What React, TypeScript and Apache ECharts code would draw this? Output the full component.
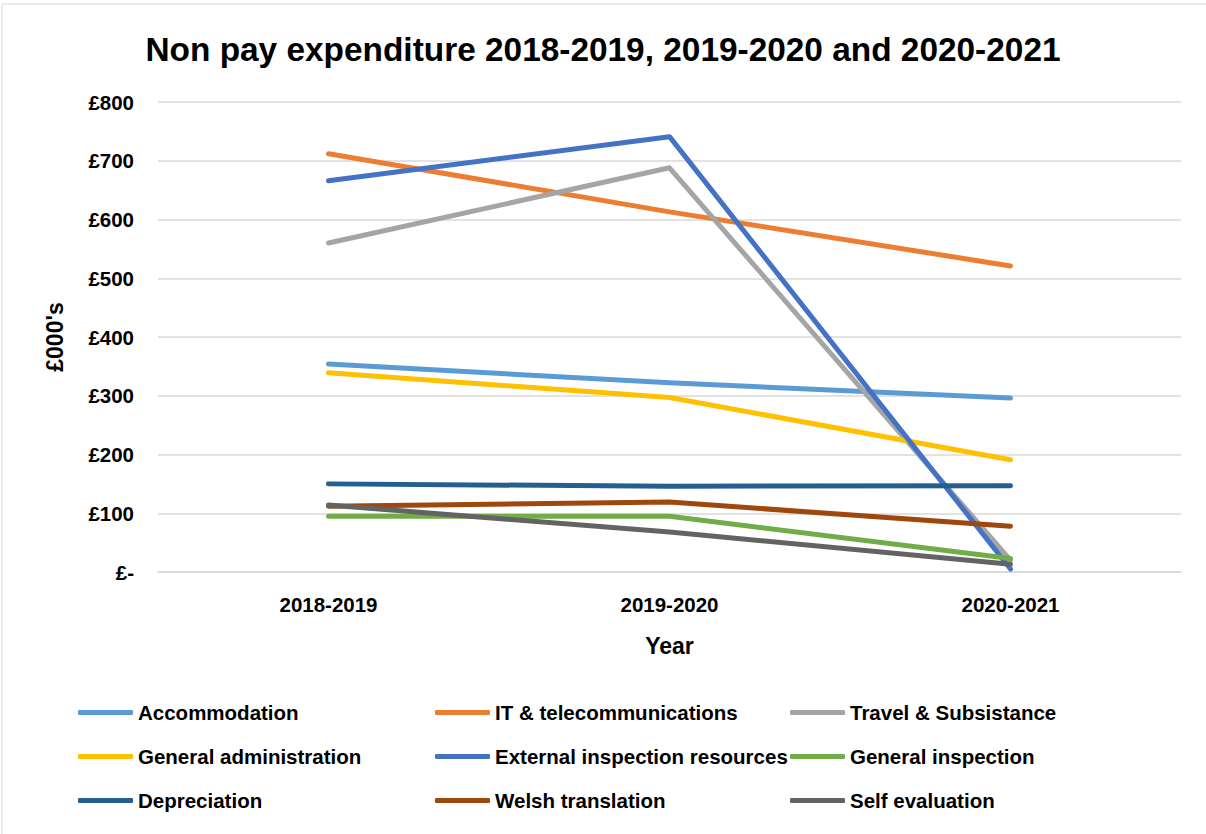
import React, { useEffect, useRef } from "react";
import * as echarts from "echarts";

const categories = ["2018-2019", "2019-2020", "2020-2021"];
const seriesNames = [
  "Accommodation",
  "IT & telecommunications",
  "Travel & Subsistance",
  "General administration",
  "External inspection resources",
  "General inspection",
  "Depreciation",
  "Welsh translation",
  "Self evaluation",
];
const accommodation = [354, 322, 296];
const itTelecom = [712, 613, 521];
const travel = [560, 688, 20];
const generalAdmin = [339, 297, 191];
const externalInspection = [666, 741, 5];
const generalInspection = [95, 95, 23];
const depreciation = [150, 146, 147];
const welshTranslation = [112, 119, 78];
const selfEvaluation = [114, 68, 13];
const yTicks = [0, 100, 200, 300, 400, 500, 600, 700, 800];

const seriesValues = [
  accommodation,
  itTelecom,
  travel,
  generalAdmin,
  externalInspection,
  generalInspection,
  depreciation,
  welshTranslation,
  selfEvaluation,
];
const colors = [
  "#5B9BD5",
  "#ED7D31",
  "#A5A5A5",
  "#FFC000",
  "#4472C4",
  "#70AD47",
  "#255E91",
  "#9E480E",
  "#636363",
];

const FONT = "'Liberation Sans', Arial, sans-serif";

export default function App() {
  const ref = useRef<HTMLDivElement>(null);
  useEffect(() => {
    if (!ref.current) return;
    const chart = echarts.init(ref.current, null, { renderer: "svg" });
    const legendBase = {
      orient: "vertical" as const,
      top: 697,
      itemGap: 23,
      itemWidth: 55,
      itemHeight: 5,
      icon: "roundRect",
      textStyle: { fontFamily: FONT, fontWeight: "bold" as const, fontSize: 20.5, color: "#000" },
    };
    chart.setOption({
      animation: false,
      color: colors,
      title: {
        text: "Non pay expenditure 2018-2019, 2019-2020 and 2020-2021",
        left: "center",
        top: 28,
        textStyle: { fontFamily: FONT, fontWeight: "bold", fontSize: 33.4, color: "#000" },
      },
      graphic: [
        {
          type: "rect",
          shape: { x: 2, y: 4, width: 1220, height: 850 },
          style: { fill: "none", stroke: "#D9D9D9", lineWidth: 1 },
          silent: true,
        },
      ],
      legend: [
        { ...legendBase, left: 73, data: [seriesNames[0], seriesNames[3], seriesNames[6]] },
        { ...legendBase, left: 430, data: [seriesNames[1], seriesNames[4], seriesNames[7]] },
        { ...legendBase, left: 785, data: [seriesNames[2], seriesNames[5], seriesNames[8]] },
      ],
      grid: { left: 158, right: 25, top: 102, bottom: 262 },
      xAxis: {
        type: "category",
        data: categories,
        name: "Year",
        nameLocation: "middle",
        nameGap: 62,
        nameTextStyle: { fontFamily: FONT, fontWeight: "bold", fontSize: 23, color: "#000" },
        axisTick: { show: false },
        axisLine: { lineStyle: { color: "#D9D9D9", width: 1.5 } },
        axisLabel: { fontFamily: FONT, fontWeight: "bold", fontSize: 20.5, color: "#000", margin: 22 },
      },
      yAxis: {
        type: "value",
        min: 0,
        max: 800,
        interval: 100,
        name: "£000's",
        nameLocation: "middle",
        nameGap: 92,
        nameRotate: 90,
        nameTextStyle: { fontFamily: FONT, fontWeight: "bold", fontSize: 23, color: "#000" },
        axisLine: { show: false },
        axisTick: { show: false },
        splitLine: { lineStyle: { color: "#D9D9D9", width: 1.5 } },
        axisLabel: {
          fontFamily: FONT,
          fontWeight: "bold",
          fontSize: 20.5,
          color: "#000",
          margin: 24,
          formatter: (v: number) => (yTicks.includes(v) ? (v === 0 ? "£-" : "£" + v) : ""),
        },
      },
      series: seriesNames.map((name, i) => ({
        name,
        type: "line",
        data: seriesValues[i],
        showSymbol: false,
        symbol: "none",
        lineStyle: { width: 5, color: colors[i], cap: "round", join: "round" },
        itemStyle: { color: colors[i] },
      })),
    });
    return () => chart.dispose();
  }, []);
  return (
    <div
      ref={ref}
      style={{ position: "fixed", left: 0, top: 0, width: 1206, height: 834, background: "#fff" }}
    />
  );
}
